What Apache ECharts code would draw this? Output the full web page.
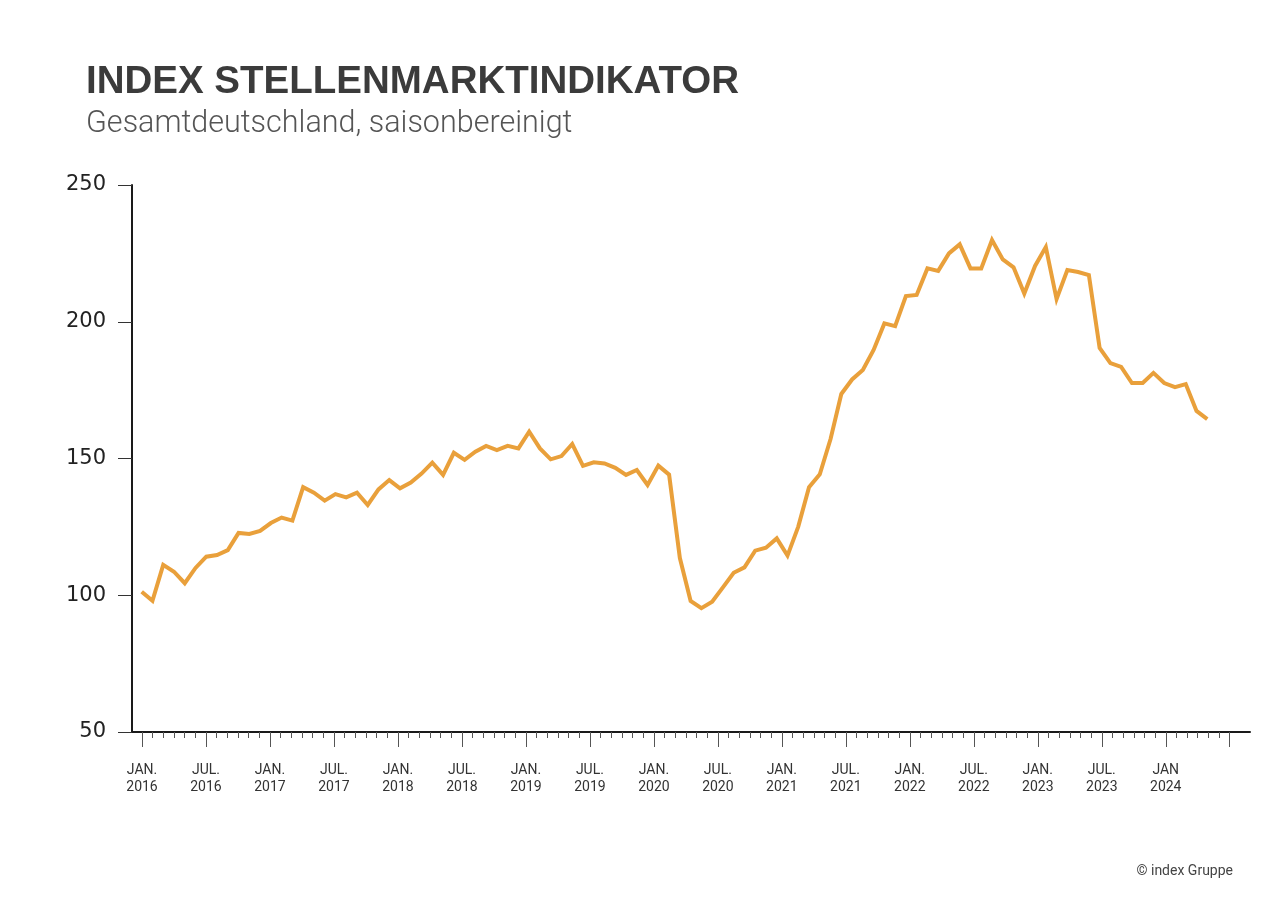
<!DOCTYPE html>
<html>
<head>
<meta charset="utf-8">
<script src="https://cdn.jsdelivr.net/npm/echarts@6/dist/echarts.min.js"></script>
<style>
  html, body { margin: 0; padding: 0; background: #ffffff; }
  #chart { width: 1280px; height: 905px; }
</style>
</head>
<body>
<div id="chart"></div>
<script>
// Monthly index values, Jan 2016 .. Apr 2024
const months = [
  '2016-01','2016-02','2016-03','2016-04','2016-05','2016-06','2016-07','2016-08','2016-09','2016-10','2016-11','2016-12',
  '2017-01','2017-02','2017-03','2017-04','2017-05','2017-06','2017-07','2017-08','2017-09','2017-10','2017-11','2017-12',
  '2018-01','2018-02','2018-03','2018-04','2018-05','2018-06','2018-07','2018-08','2018-09','2018-10','2018-11','2018-12',
  '2019-01','2019-02','2019-03','2019-04','2019-05','2019-06','2019-07','2019-08','2019-09','2019-10','2019-11','2019-12',
  '2020-01','2020-02','2020-03','2020-04','2020-05','2020-06','2020-07','2020-08','2020-09','2020-10','2020-11','2020-12',
  '2021-01','2021-02','2021-03','2021-04','2021-05','2021-06','2021-07','2021-08','2021-09','2021-10','2021-11','2021-12',
  '2022-01','2022-02','2022-03','2022-04','2022-05','2022-06','2022-07','2022-08','2022-09','2022-10','2022-11','2022-12',
  '2023-01','2023-02','2023-03','2023-04','2023-05','2023-06','2023-07','2023-08','2023-09','2023-10','2023-11','2023-12',
  '2024-01','2024-02','2024-03','2024-04'
];
const indexValues = [
  101.3, 98.0, 111.1, 108.6, 104.4, 110.0, 114.1, 114.7, 116.5, 122.8, 122.4, 123.5,
  126.4, 128.4, 127.3, 139.5, 137.5, 134.6, 137.0, 135.8, 137.5, 133.0, 138.7, 142.1,
  139.1, 141.2, 144.5, 148.5, 144.0, 152.1, 149.5, 152.5, 154.6, 153.1, 154.6, 153.7,
  159.8, 153.7, 149.7, 150.9, 155.3, 147.3, 148.6, 148.2, 146.6, 144.0, 145.8, 140.3,
  147.4, 144.1, 113.6, 97.9, 95.3, 97.6, 102.9, 108.2, 110.2, 116.3, 117.4, 120.8,
  114.5, 125.1, 139.5, 144.2, 157.1, 173.6, 178.9, 182.4, 189.7, 199.4, 198.4, 209.4,
  209.8, 219.5, 218.6, 225.0, 228.3, 219.5, 219.5, 229.9, 222.8, 219.9, 210.3, 220.4,
  227.3, 208.3, 218.9, 218.2, 217.1, 190.4, 184.9, 183.5, 177.6, 177.6, 181.3, 177.6,
  176.1, 177.2, 167.4, 164.4
];
// Axis tick labels (every 6 months from Jan 2016)
const tickLabels = [
  'JAN.\n2016','JUL.\n2016','JAN.\n2017','JUL.\n2017','JAN.\n2018','JUL.\n2018',
  'JAN.\n2019','JUL.\n2019','JAN.\n2020','JUL.\n2020','JAN.\n2021','JUL.\n2021',
  'JAN.\n2022','JUL.\n2022','JAN.\n2023','JUL.\n2023','JAN\n2024'
];
const yTicks = [50, 100, 150, 200, 250];
const titleText = 'INDEX STELLENMARKTINDIKATOR';
const subtitleText = 'Gesamtdeutschland, saisonbereinigt';
const sourceText = '© index Gruppe';

const monthTickValues = [];
for (let m = 0; m <= 102; m++) monthTickValues.push(m);
const longTickValues = [];
for (let m = 0; m <= 102; m += 6) longTickValues.push(m);
const labelValues = tickLabels.map((_, i) => i * 6);

const chart = echarts.init(document.getElementById('chart'), null, { renderer: 'canvas' });
const tickAxisMin = -0.938, tickAxisMax = 103.9;

chart.setOption({
  backgroundColor: '#ffffff',
  animation: false,
  title: [
    {
      text: titleText, left: 86, top: 63, padding: 0,
      textStyle: { fontFamily: 'Liberation Sans', fontWeight: 'bold', fontSize: 38.5, color: '#3b3b3b' }
    },
    {
      text: subtitleText, left: 86, top: 109, padding: 0,
      textStyle: { fontFamily: 'Roboto', fontWeight: 300, fontSize: 30.5, color: '#555555' }
    },
    {
      text: sourceText, right: 47, top: 864, padding: 0,
      textStyle: { fontFamily: 'Roboto', fontWeight: 'normal', fontSize: 14, color: '#444444' }
    }
  ],
  grid: { left: 132, right: 30, top: 185, bottom: 173, containLabel: false },
  xAxis: [
    {
      // data axis (positions the monthly points)
      type: 'value', min: -0.901, max: 102.97, show: false, gridIndex: 0
    },
    {
      type: 'value', min: tickAxisMin, max: tickAxisMax, position: 'bottom', gridIndex: 0,
      axisLine: { show: true, onZero: false, lineStyle: { color: '#1a1a1a', width: 2 } },
      axisTick: { show: true, customValues: monthTickValues, length: 6, lineStyle: { color: '#555', width: 1 } },
      axisLabel: { show: false },
      splitLine: { show: false }
    },
    {
      type: 'value', min: tickAxisMin, max: tickAxisMax, position: 'bottom', gridIndex: 0,
      axisLine: { show: false, onZero: false },
      axisTick: { show: true, customValues: longTickValues, length: 15, lineStyle: { color: '#555', width: 1 } },
      axisLabel: {
        show: true, customValues: labelValues, margin: 30,
        fontFamily: 'Roboto', fontSize: 14, lineHeight: 17, color: '#333333', align: 'center',
        formatter: function (v) { return tickLabels[Math.round(v / 6)] || ''; }
      },
      splitLine: { show: false }
    }
  ],
  yAxis: {
    type: 'value', min: yTicks[0], max: yTicks[yTicks.length - 1], interval: 50,
    axisLine: { show: true, onZero: false, lineStyle: { color: '#1a1a1a', width: 2 } },
    axisTick: { show: true, length: 14, lineStyle: { color: '#333', width: 1 } },
    axisLabel: { show: true, margin: 26, padding: [4, 0, 0, 0], fontFamily: 'DejaVu Sans', fontSize: 21, color: '#222222' },
    splitLine: { show: false }
  },
  series: [
    {
      type: 'line', xAxisIndex: 0, yAxisIndex: 0,
      data: indexValues.map((v, i) => [i, v]),
      showSymbol: false, symbol: 'none',
      lineStyle: { color: '#E9A03B', width: 4, join: 'miter' },
      silent: true
    }
  ]
});
</script>
</body>
</html>
